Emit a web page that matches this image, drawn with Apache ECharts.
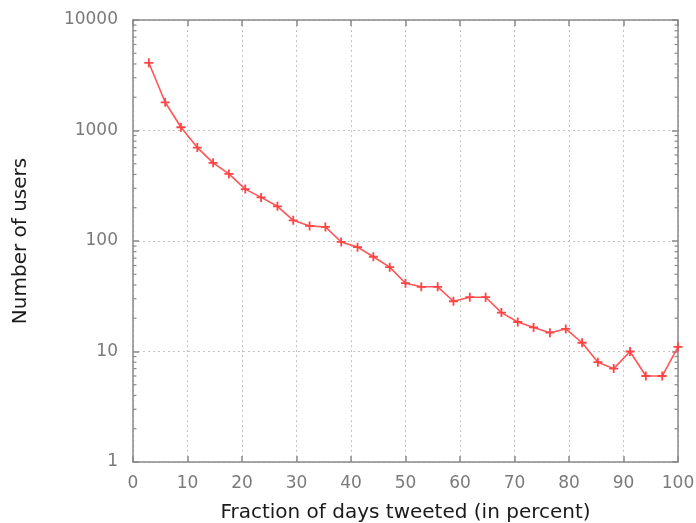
<!DOCTYPE html>
<html>
<head>
<meta charset="utf-8">
<script src="https://cdn.jsdelivr.net/npm/echarts@6/dist/echarts.min.js"></script>
<style>html,body{margin:0;padding:0;background:#fff}#c{width:696px;height:523px}</style>
</head>
<body>
<div id="c"></div>
<script>
// Fraction of days tweeted (percent)
const xValues = [2.9,5.9,8.8,11.8,14.7,17.6,20.6,23.5,26.5,29.4,32.4,35.3,38.2,41.2,44.1,47.1,50,52.9,55.9,58.8,61.8,64.7,67.6,70.6,73.5,76.5,79.4,82.4,85.3,88.2,91.2,94.1,97.1,100];
// Number of users
const users = [4100,1800,1070,700,510,405,295,248,206,154,137,134,98,88,72,58,41.5,38.5,38.5,28.5,31,31,22.5,18.5,16.5,14.8,16,12,8,7,10,6,6,11];
const xTicks = [0,10,20,30,40,50,60,70,80,90,100];
const yTicks = [1,10,100,1000,10000];
const minorTickValues = [];
for (let d = 1; d < 10000; d *= 10) for (let m = 2; m <= 9; m++) minorTickValues.push(d * m);

const axisColor = '#8a8a8a';
const labelColor = '#7a7a7a';
const titleColor = '#1a1a1a';
const font = 'DejaVu Sans';

const chart = echarts.init(document.getElementById('c'), null, {renderer: 'canvas'});
chart.setOption({
  animation: false,
  backgroundColor: '#fff',
  grid: {left: 133, right: 18, top: 20, bottom: 61, containLabel: false, outerBoundsMode: 'none'},
  xAxis: [{
    type: 'value', min: 0, max: 100, interval: 10, position: 'bottom',
    name: 'Fraction of days tweeted (in percent)', nameLocation: 'middle', nameGap: 41,
    nameTextStyle: {color: titleColor, fontSize: 20, fontFamily: font},
    axisLine: {show: true, onZero: false, lineStyle: {color: axisColor, width: 1.5}},
    axisTick: {show: true, inside: true, length: 6, lineStyle: {color: axisColor, width: 1.5}},
    axisLabel: {color: labelColor, fontSize: 17, fontFamily: font, margin: 13},
    splitLine: {show: true, lineStyle: {color: '#c4c4c4', type: [2, 3], width: 1}}
  }, {
    type: 'value', min: 0, max: 100, interval: 10, position: 'top',
    axisLine: {show: true, onZero: false, lineStyle: {color: axisColor, width: 1.5}},
    axisTick: {show: true, inside: true, length: 6, lineStyle: {color: axisColor, width: 1.5}},
    axisLabel: {show: false}, splitLine: {show: false}
  }],
  yAxis: [{
    type: 'log', logBase: 10, min: 1, max: 10000, position: 'left',
    name: 'Number of users', nameLocation: 'middle', nameGap: 102,
    nameTextStyle: {color: titleColor, fontSize: 20, fontFamily: font},
    axisLine: {show: true, onZero: false, lineStyle: {color: axisColor, width: 1.5}},
    axisTick: {show: true, inside: true, length: 6, lineStyle: {color: axisColor, width: 1.5}},
    axisLabel: {color: labelColor, fontSize: 17, fontFamily: font, margin: 15,
      formatter: v => String(Math.round(v))},
    splitLine: {show: true, lineStyle: {color: '#c4c4c4', type: [2, 3], width: 1}}
  }, {
    type: 'log', logBase: 10, min: 1, max: 10000, position: 'right',
    axisLine: {show: true, onZero: false, lineStyle: {color: axisColor, width: 1.5}},
    axisTick: {show: true, inside: true, length: 6, lineStyle: {color: axisColor, width: 1.5}},
    axisLabel: {show: false}, splitLine: {show: false}
  }],
  series: [{
    type: 'custom',
    xAxisIndex: 0, yAxisIndex: 0,
    silent: true,
    data: minorTickValues.map(v => [0, v]),
    renderItem: function (params, api) {
      const v = api.value(1);
      const l = api.coord([0, v]);
      const r = api.coord([100, v]);
      const style = {stroke: axisColor, lineWidth: 1.2};
      return {type: 'group', children: [
        {type: 'line', shape: {x1: l[0], y1: l[1], x2: l[0] + 3.5, y2: l[1]}, style: style},
        {type: 'line', shape: {x1: r[0], y1: r[1], x2: r[0] - 3.5, y2: r[1]}, style: style}
      ]};
    },
    z: 3
  }, {
    type: 'line',
    xAxisIndex: 0, yAxisIndex: 0,
    data: xValues.map((x, i) => [x, users[i]]),
    symbol: 'path://M4,0h2v4h4v2h-4v4h-2v-4h-4v-2h4z',
    symbolSize: 9,
    showSymbol: true,
    lineStyle: {color: '#ff5555', width: 1.6},
    itemStyle: {color: '#ff4444'},
    z: 5
  }]
});
</script>
</body>
</html>
